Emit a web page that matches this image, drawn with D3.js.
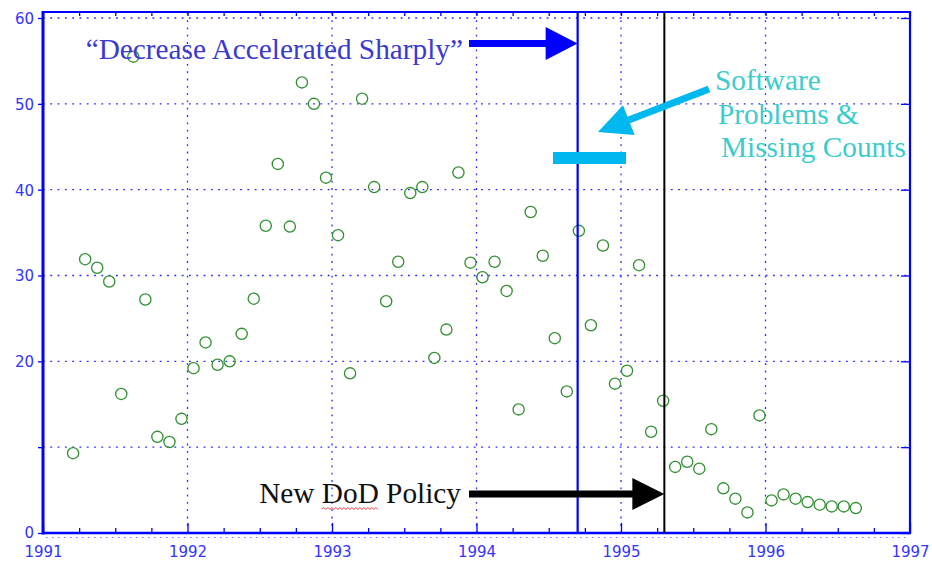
<!DOCTYPE html>
<html><head><meta charset="utf-8">
<script src="https://cdn.jsdelivr.net/npm/d3@7"></script>
<style>html,body{margin:0;padding:0;background:#fff;} svg{display:block;}</style>
</head><body>
<script>
// ---- data ----
const months = [
 "1991-03","1991-04","1991-05","1991-06","1991-07","1991-08","1991-09","1991-10","1991-11","1991-12",
 "1992-01","1992-02","1992-03","1992-04","1992-05","1992-06","1992-07","1992-08","1992-09","1992-10","1992-11","1992-12",
 "1993-01","1993-02","1993-03","1993-04","1993-05","1993-06","1993-07","1993-08","1993-09","1993-10","1993-11","1993-12",
 "1994-01","1994-02","1994-03","1994-04","1994-05","1994-06","1994-07","1994-08","1994-09","1994-10","1994-11","1994-12",
 "1995-01","1995-02","1995-03","1995-04","1995-05","1995-06","1995-07","1995-08","1995-09","1995-10","1995-11","1995-12",
 "1996-01","1996-02","1996-03","1996-04","1996-05","1996-06","1996-07","1996-08"];
const counts = [9.3,31.9,30.9,29.3,16.2,55.5,27.2,11.2,10.6,13.3,
 19.2,22.2,19.6,20.0,23.2,27.3,35.8,43.0,35.7,52.5,50.0,41.4,
 34.7,18.6,50.6,40.3,27.0,31.6,39.6,40.3,20.4,23.7,42.0,31.5,
 29.8,31.6,28.2,14.4,37.4,32.3,22.7,16.5,35.2,24.2,33.5,17.4,
 18.9,31.2,11.8,15.4,7.7,8.3,7.5,12.1,5.2,4.0,2.4,13.7,
 3.8,4.5,4.0,3.6,3.3,3.1,3.1,2.9];
const xTickYears = [1991,1992,1993,1994,1995,1996,1997];
const yTickValues = [0,10,20,30,40,50,60];
const yTickLabels = ["0","","20","30","40","50","60"];
const accelDate = 1994.7;   // "Decrease Accelerated Sharply"
const policyDate = 1995.3;  // New DoD Policy
const accelLabel = "\u201CDecrease Accelerated Sharply\u201D";
const policyLabel = ["New ","DoD"," Policy"];
const softwareLabel = ["Software","Problems &","Missing Counts"];

// ---- layout ----
const W = 932, H = 564;
const mg = {left:43, right:22, top:12, bottom:31};
const svg = d3.select("body").append("svg").attr("width",W).attr("height",H);

const x = d3.scaleLinear().domain([1991,1997]).range([mg.left, W-mg.right]);
const y = d3.scaleLinear().domain([0,60.7]).range([H-mg.bottom, mg.top]);
const blue = "#0000ff", gridBlue = "#2a2aff";
const toYear = s => { const [yy,mm] = s.split("-").map(Number); return yy + (mm-0.5)/12; };
const data = months.map((s,i)=>({t:toYear(s), v:counts[i]}));

// gridlines
const g = svg.append("g");
g.selectAll(".vg").data(xTickYears.slice(1,-1)).join("line")
  .attr("x1",d=>x(d)).attr("x2",d=>x(d)).attr("y1",y.range()[0]).attr("y2",y.range()[1])
  .attr("stroke",gridBlue).attr("stroke-width",1.3).attr("stroke-dasharray","1.8,5.5");
g.selectAll(".hg").data(yTickValues.slice(1)).join("line")
  .attr("x1",x.range()[0]).attr("x2",x.range()[1]).attr("y1",d=>y(d)).attr("y2",d=>y(d))
  .attr("stroke",gridBlue).attr("stroke-width",1.3).attr("stroke-dasharray","1.8,5.5");
// faint dotted row just under the bottom frame
svg.append("line").attr("x1",x.range()[0]+3).attr("x2",x.range()[1]-3).attr("y1",y(0)+4.5).attr("y2",y(0)+4.5)
  .attr("stroke","#7a7aff").attr("stroke-width",1).attr("stroke-dasharray","1.5,4.5");

// axes
const quarters = d3.range(1991,1997.001,0.25);
const axB = svg.append("g").attr("transform",`translate(0,${y(0)})`)
  .call(d3.axisTop(x).tickValues(quarters).tickSize(5).tickFormat(""));
axB.selectAll(".tick line").filter(d=>Math.abs(d-Math.round(d))<1e-6).attr("y2",-10);
const axT = svg.append("g").attr("transform",`translate(0,${mg.top})`)
  .call(d3.axisBottom(x).tickValues(quarters).tickSize(4).tickFormat(""));
const axL = svg.append("g").attr("transform",`translate(${mg.left},0)`)
  .call(d3.axisLeft(y).tickValues(yTickValues).tickSize(5).tickPadding(4)
    .tickFormat((d,i)=>yTickLabels[i]));
const axR = svg.append("g").attr("transform",`translate(${W-mg.right},0)`)
  .call(d3.axisLeft(y).tickValues(yTickValues).tickSize(9).tickFormat(""));
const axX = svg.append("g").attr("transform",`translate(0,${y(0)})`)
  .call(d3.axisBottom(x).tickValues(xTickYears).tickSize(0).tickPadding(13).tickFormat(d3.format("d")));
[axB,axT,axL,axR,axX].forEach(a=>{
  a.select(".domain").remove();
  a.selectAll(".tick line").attr("stroke",blue).attr("stroke-width",1.3);
  a.selectAll("text").attr("fill","#3434ff").attr("font-family","DejaVu Sans")
    .attr("font-size",15);
});
axL.selectAll("text").attr("dy",d=>d===0?"0.3em":"0.36em");
// frame
svg.append("line").attr("x1",x.range()[0]).attr("x2",x.range()[0]).attr("y1",mg.top-1).attr("y2",y(0)+1.5)
  .attr("stroke",blue).attr("stroke-width",3);
svg.append("line").attr("x1",x.range()[0]).attr("x2",x.range()[1]+1).attr("y1",mg.top).attr("y2",mg.top)
  .attr("stroke",blue).attr("stroke-width",2.2);
svg.append("line").attr("x1",x.range()[0]).attr("x2",x.range()[1]+1).attr("y1",y(0)).attr("y2",y(0))
  .attr("stroke",blue).attr("stroke-width",2.6);
svg.append("line").attr("x1",x.range()[1]).attr("x2",x.range()[1]).attr("y1",mg.top).attr("y2",y(0))
  .attr("stroke",blue).attr("stroke-width",2.2);

// points
svg.append("g").selectAll("circle").data(data).join("circle")
  .attr("cx",d=>x(d.t)).attr("cy",d=>y(d.v)).attr("r",5.6)
  .attr("fill","none").attr("stroke","#2f8f2f").attr("stroke-width",1.3);

// vertical marker lines
svg.append("line").attr("x1",x(accelDate)).attr("x2",x(accelDate)).attr("y1",mg.top).attr("y2",y(0))
  .attr("stroke",blue).attr("stroke-width",2.2);
svg.append("line").attr("x1",x(policyDate)).attr("x2",x(policyDate)).attr("y1",mg.top).attr("y2",y(0))
  .attr("stroke","#000").attr("stroke-width",2);

// arrows
function arrow(x1,y1,x2,y2,sw,hl,hw){
  const dx=x2-x1, dy=y2-y1, L=Math.hypot(dx,dy), ux=dx/L, uy=dy/L, px=-uy, py=ux;
  const bx=x2-ux*hl, by=y2-uy*hl;
  const p=[[x1+px*sw/2,y1+py*sw/2],[bx+px*sw/2,by+py*sw/2],[bx+px*hw/2,by+py*hw/2],[x2,y2],
           [bx-px*hw/2,by-py*hw/2],[bx-px*sw/2,by-py*sw/2],[x1-px*sw/2,y1-py*sw/2]];
  return "M"+p.map(q=>q.join(",")).join("L")+"Z";
}
svg.append("path").attr("d",arrow(469,43.5,x(accelDate),43.5,6.8,32,33)).attr("fill",blue);
svg.append("path").attr("d",arrow(469,494,x(policyDate),494,6.8,32,32)).attr("fill","#000");
const cyan = "#00b8f0";
svg.append("path").attr("d",arrow(709,89,598,132,7,33,32)).attr("fill",cyan);
svg.append("rect").attr("x",553).attr("y",152).attr("width",73).attr("height",12).attr("fill",cyan);

// texts
const serif = "Liberation Serif, Times New Roman, serif";
const fs = 29.3;
svg.append("text").attr("x",463).attr("y",59).attr("text-anchor","end")
  .attr("font-family",serif).attr("font-size",fs).attr("fill","#3a3ad0").text(accelLabel);
const pt = svg.append("text").attr("x",461).attr("y",503).attr("text-anchor","end")
  .attr("font-family",serif).attr("font-size",fs).attr("fill","#111");
policyLabel.forEach(s=>pt.append("tspan").text(s));
// spell-check squiggle under "DoD"
{
  const node = pt.node();
  const s0 = policyLabel[0].length, n = policyLabel[1].length;
  const a = node.getStartPositionOfChar(s0).x;
  const b = node.getEndPositionOfChar(s0+n-1).x;
  let d = `M${a},509`; let up=true;
  for(let xx=a+2; xx<=b; xx+=2){ d += `L${xx},${up?507.5:509.5}`; up=!up; }
  svg.append("path").attr("d",d).attr("fill","none").attr("stroke","#e04040").attr("stroke-width",1);
}
const st = svg.append("text").attr("font-family",serif).attr("font-size",fs).attr("fill","#3ccccc");
softwareLabel.forEach((s,i)=>st.append("tspan").attr("x",715+3*i).attr("y",90+33.5*i).text(s));
</script>
</body></html>
